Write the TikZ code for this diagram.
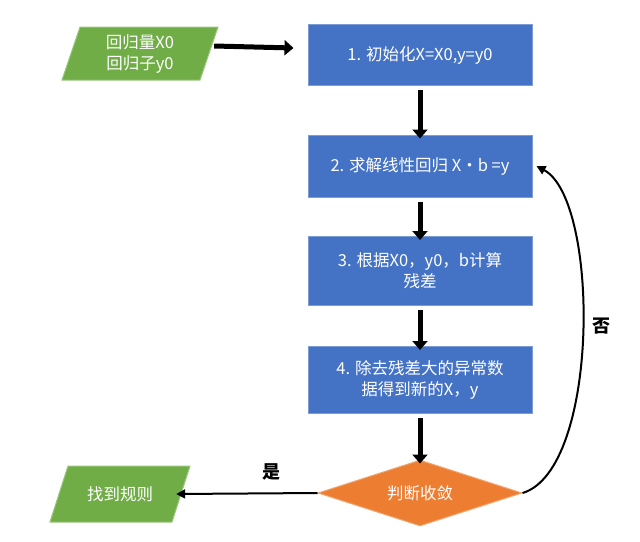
\documentclass[tikz,border=0pt]{standalone}
\usepackage{fontspec}
\setmainfont{Noto Sans CJK SC}
\usetikzlibrary{shapes.geometric,arrows.meta}
\definecolor{bx}{HTML}{4472C4}
\definecolor{gr}{HTML}{70AD47}
\definecolor{og}{HTML}{ED7D31}
\begin{document}
\begin{tikzpicture}[x=1pt,y=-1pt,
  txt/.style={text=white,font=\fontsize{16.5}{21}\selectfont,align=center},
  blk/.style={txt,fill=bx,draw=bx!70!white,line width=1pt,minimum width=224pt,inner sep=2pt},
  para/.style={txt,inner sep=2pt},
  pfill/.style={fill=gr,draw=gr!70!white,line width=1pt},
  fat/.style={line width=5pt,-{Triangle[length=9pt,width=15pt]}},
  thin/.style={line width=2pt,-{Triangle[length=9pt,width=9pt]}}]
\useasboundingbox (0,0) rectangle (640,541);
\draw[pfill] (80,27) -- (218,27) -- (200,80) -- (62,80) -- cycle;
\draw[pfill] (68,466) -- (190,466) -- (172,522) -- (50,522) -- cycle;
\node[para,minimum width=120pt,minimum height=53pt] (in) at (140,54) {回归量X0\\回归子y0};
\node[para,minimum width=104pt,minimum height=56pt] (out) at (120,494) {找到规则};
\node[blk,minimum height=61pt] (b1) at (420,55) {1. 初始化X=X0,y=y0};
\node[blk,minimum height=62pt] (b2) at (420,166) {2. 求解线性回归 X·b =y};
\node[blk,minimum height=69pt] (b3) at (420,271) {3. 根据X0，y0，b计算\\残差};
\node[blk,minimum height=67pt] (b4) at (420,380) {4. 除去残差大的异常数\\据得到新的X，y};
\node[txt,diamond,aspect=3.1,fill=og,draw=og!70!white,line width=1pt,minimum width=204pt,minimum height=66pt,inner sep=0pt] (d) at (420,493) {判断收敛};
\draw[fat] ([xshift=14pt,yshift=8pt]in.east) -- ([xshift=-14pt,yshift=7pt]b1.west);
\draw[fat] (b1.south) ++(0,4) -- ([yshift=-4pt]b2.north);
\draw[fat] (b2.south) ++(0,4) -- ([yshift=-4pt]b3.north);
\draw[fat] (b3.south) ++(0,4) -- ([yshift=-4pt]b4.north);
\draw[fat] (b4.south) ++(0,4) -- ([yshift=-4pt]d.north);
\draw[thin] (d.west) -- ([xshift=4pt]out.east);
\node[font=\fontsize{18}{20}\selectfont\bfseries] (yes) at (271,472) {是};
\draw[thin] (d.east) .. controls (600,470) and (600,200) .. ([xshift=4pt]b2.east);
\node[font=\fontsize{18}{20}\selectfont\bfseries] (no) at (601,326) {否};
\end{tikzpicture}
\end{document}
